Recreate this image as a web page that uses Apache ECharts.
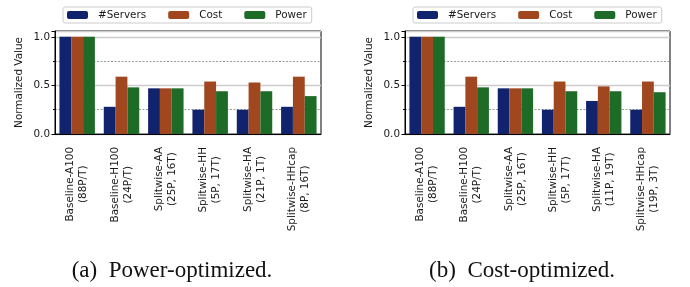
<!DOCTYPE html>
<html>
<head>
<meta charset="utf-8">
<script src="https://cdn.jsdelivr.net/npm/echarts@6/dist/echarts.min.js"></script>
<style>
  html, body { margin: 0; padding: 0; background: #fff; }
  #main { width: 690px; height: 287px; }
</style>
</head>
<body>
<div id="main"></div>
<script>
// data
var seriesNames = ['#Servers', 'Cost', 'Power'];
var categoriesA = ['Baseline-A100\n(88P/T)', 'Baseline-H100\n(24P/T)', 'Splitwise-AA\n(25P, 16T)',
  'Splitwise-HH\n(5P, 17T)', 'Splitwise-HA\n(21P, 1T)', 'Splitwise-HHcap\n(8P, 16T)'];
var categoriesB = ['Baseline-A100\n(88P/T)', 'Baseline-H100\n(24P/T)', 'Splitwise-AA\n(25P, 16T)',
  'Splitwise-HH\n(5P, 17T)', 'Splitwise-HA\n(11P, 19T)', 'Splitwise-HHcap\n(19P, 3T)'];
var serversA = [1.0, 0.28, 0.47, 0.25, 0.25, 0.28];
var costA = [1.0, 0.59, 0.47, 0.54, 0.53, 0.59];
var powerA = [1.0, 0.48, 0.47, 0.44, 0.44, 0.39];
var serversB = [1.0, 0.28, 0.47, 0.25, 0.34, 0.25];
var costB = [1.0, 0.59, 0.47, 0.54, 0.49, 0.54];
var powerB = [1.0, 0.48, 0.47, 0.44, 0.44, 0.43];
var captions = ['(a)  Power-optimized.', '(b)  Cost-optimized.'];
var yMax = 1.06;

var colors = ['#12236d', '#a0471f', '#1e6a27'];
var txt = '#1a1a1a';
var fontMain = 'DejaVu Sans';

var myChart = echarts.init(document.getElementById('main'));

function xAxisFor(cats, gi) {
  return {
    type: 'category', gridIndex: gi, data: cats,
    axisLine: { lineStyle: { color: '#000', width: 1 } },
    axisTick: { alignWithLabel: true, length: 3.5, lineStyle: { color: '#000' } },
    axisLabel: {
      interval: 0, rotate: 90, margin: 13, color: txt,
      fontFamily: fontMain, fontSize: 10.4,
      formatter: function (v) {
        return v.split('\n').map(function (s) { return '{a|' + s + '}'; }).join('\n');
      },
      rich: { a: { align: 'center', fontFamily: fontMain, fontSize: 10.4, lineHeight: 13, color: txt } }
    }
  };
}

function mainY(gi) {
  return {
    type: 'value', gridIndex: gi, position: 'left', min: 0, max: yMax, interval: 0.5,
    name: 'Normalized Value', nameLocation: 'middle', nameGap: 31,
    nameTextStyle: { fontFamily: fontMain, fontSize: 10.4, color: txt },
    axisLine: { show: true, lineStyle: { color: '#000', width: 1 } },
    axisTick: { show: true, length: 3.5, lineStyle: { color: '#000' } },
    axisLabel: {
      color: txt, fontFamily: fontMain, fontSize: 10.4, margin: 5,
      formatter: function (v) {
        return Math.abs(v * 2 - Math.round(v * 2)) < 1e-6 ? v.toFixed(1) : '';
      }
    },
    splitLine: { show: true, lineStyle: { color: '#cccccc', width: 1.3 } }
  };
}

function dashY(gi) {
  var t = 'rgba(0,0,0,0)';
  return {
    type: 'value', gridIndex: gi, position: 'left', offset: 0, min: 0, max: yMax, interval: 0.25,
    axisLine: { show: false },
    axisTick: { show: true, length: 2, lineStyle: { color: '#000' } },
    axisLabel: { show: false },
    splitLine: { show: true, lineStyle: { color: [t, '#808080', t, '#808080', t, t], width: 0.8, type: [2, 1.5] } }
  };
}

function barsFor(gi, vals) {
  return vals.map(function (d, i) {
    return {
      name: seriesNames[i], type: 'bar', xAxisIndex: gi, yAxisIndex: gi * 2,
      data: d, barGap: '0%', barCategoryGap: '20%',
      itemStyle: { color: colors[i] }
    };
  });
}

function legendFor(left) {
  return {
    data: seriesNames, left: left, top: 7, orient: 'horizontal',
    itemWidth: 21, itemHeight: 8, itemGap: 22, padding: [3, 5, 3, 4],
    borderColor: '#cccccc', borderWidth: 1, borderRadius: 2,
    textStyle: { fontFamily: fontMain, fontSize: 10.4, color: txt, padding: [0, 0, 0, 5] },
    selectedMode: false
  };
}

myChart.setOption({
  animation: false,
  color: colors,
  title: [
    { text: captions[0], left: 167, top: 254, textAlign: 'center',
      textStyle: { fontFamily: 'Liberation Serif', fontSize: 23, fontWeight: 'normal', color: '#111' } },
    { text: captions[1], left: 517, top: 254, textAlign: 'center',
      textStyle: { fontFamily: 'Liberation Serif', fontSize: 23, fontWeight: 'normal', color: '#111' } }
  ],
  legend: [legendFor(63), legendFor(413)],
  grid: [
    { left: 55, top: 31, width: 266, height: 103, show: true, borderColor: '#000', borderWidth: 1 },
    { left: 405, top: 31, width: 265, height: 103, show: true, borderColor: '#000', borderWidth: 1 }
  ],
  xAxis: [xAxisFor(categoriesA, 0), xAxisFor(categoriesB, 1)],
  yAxis: [mainY(0), dashY(0), mainY(1), dashY(1)],
  series: barsFor(0, [serversA, costA, powerA]).concat(barsFor(1, [serversB, costB, powerB]))
});
</script>
</body>
</html>
